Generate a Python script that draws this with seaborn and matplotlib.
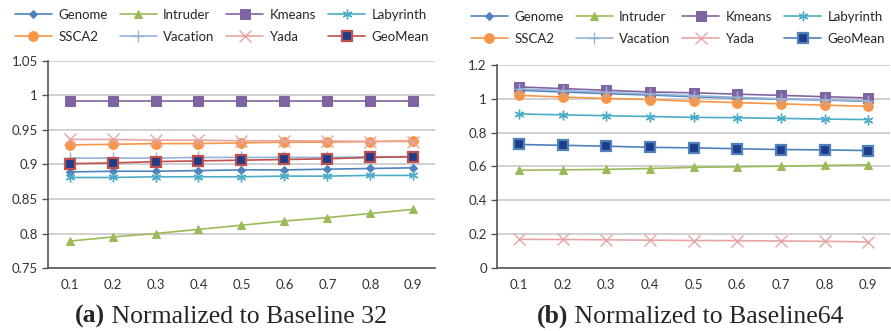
import matplotlib
matplotlib.use("Agg")
import matplotlib.pyplot as plt
import seaborn as sns
import pandas as pd

# x values (ratio)
ratios = [0.1, 0.2, 0.3, 0.4, 0.5, 0.6, 0.7, 0.8, 0.9]
names = ["Genome", "Intruder", "Kmeans", "Labyrinth", "SSCA2", "Vacation", "Yada", "GeoMean"]

# (a) normalized to baseline 32
a_genome = [0.889, 0.890, 0.890, 0.891, 0.892, 0.892, 0.893, 0.894, 0.895]
a_intruder = [0.789, 0.795, 0.800, 0.806, 0.812, 0.818, 0.823, 0.829, 0.835]
a_kmeans = [0.991, 0.991, 0.991, 0.991, 0.991, 0.991, 0.991, 0.991, 0.991]
a_labyrinth = [0.881, 0.881, 0.882, 0.882, 0.882, 0.883, 0.883, 0.884, 0.884]
a_ssca2 = [0.928, 0.929, 0.930, 0.930, 0.931, 0.932, 0.932, 0.933, 0.934]
a_vacation = [0.909, 0.909, 0.909, 0.910, 0.910, 0.910, 0.910, 0.911, 0.911]
a_yada = [0.936, 0.936, 0.935, 0.935, 0.934, 0.934, 0.934, 0.933, 0.933]
a_geomean = [0.901, 0.902, 0.904, 0.905, 0.906, 0.907, 0.908, 0.910, 0.911]

# (b) normalized to baseline 64
b_genome = [1.050, 1.040, 1.030, 1.022, 1.012, 1.004, 0.998, 0.992, 0.985]
b_intruder = [0.578, 0.580, 0.583, 0.588, 0.595, 0.598, 0.602, 0.606, 0.610]
b_kmeans = [1.070, 1.060, 1.050, 1.040, 1.035, 1.027, 1.020, 1.012, 1.005]
b_labyrinth = [0.910, 0.905, 0.900, 0.895, 0.890, 0.888, 0.884, 0.880, 0.877]
b_ssca2 = [1.020, 1.010, 1.002, 0.995, 0.985, 0.977, 0.970, 0.962, 0.955]
b_vacation = [1.058, 1.048, 1.038, 1.028, 1.018, 1.008, 1.000, 0.994, 0.988]
b_yada = [0.170, 0.169, 0.167, 0.165, 0.163, 0.162, 0.160, 0.158, 0.155]
b_geomean = [0.730, 0.725, 0.720, 0.713, 0.710, 0.705, 0.700, 0.698, 0.694]

data_a = [a_genome, a_intruder, a_kmeans, a_labyrinth, a_ssca2, a_vacation, a_yada, a_geomean]
data_b = [b_genome, b_intruder, b_kmeans, b_labyrinth, b_ssca2, b_vacation, b_yada, b_geomean]

# Excel 2007 っぽい色
colors = {"Genome": "#4F81BD", "Intruder": "#9BBB59", "Kmeans": "#8064A2",
          "Labyrinth": "#4BACC6", "SSCA2": "#F79646", "Vacation": "#95B3D7",
          "Yada": "#E6A5A4"}
markers = {"Genome": "D", "Intruder": "^", "Kmeans": "s", "Labyrinth": (6, 2, 0),
           "SSCA2": "o", "Vacation": "+", "Yada": "x", "GeoMean": "s"}
msize = {"Genome": 4.5, "Intruder": 6, "Kmeans": 7, "Labyrinth": 7,
         "SSCA2": 7, "Vacation": 8, "Yada": 8, "GeoMean": 7}

sns.set_style("white")
plt.rcParams["font.family"] = ["Lato", "DejaVu Sans"]

fig = plt.figure(figsize=(8.91, 3.31), dpi=100)
ax_a = fig.add_axes([0.054, 0.19, 0.434, 0.627])
ax_b = fig.add_axes([0.558, 0.19, 0.441, 0.614])


def draw(ax, series, geo_color, ylim, yticks, yfmt, leg_x, leg_y):
    for name, vals in zip(names, series):
        df = pd.DataFrame({"x": ratios, "y": vals})
        c = colors.get(name, geo_color)
        kw = dict(marker=markers[name], markersize=msize[name], color=c,
                  linewidth=1.2, label=name)
        if name == "GeoMean":
            kw.update(markerfacecolor="#1F3C88", markeredgecolor=c, markeredgewidth=1.6)
        elif name in ("Vacation", "Yada", "Labyrinth"):
            kw.update(markeredgecolor=c, markeredgewidth=1.0)
        else:
            kw.update(markeredgecolor=c)
        sns.lineplot(data=df, x="x", y="y", ax=ax, **kw)
    # カテゴリ軸っぽく
    ax.set_xlim(0.05, 0.95)
    ax.set_xticks(ratios)
    ax.set_xticklabels([f"{r:.1f}" for r in ratios])
    ax.set_xticks([round(0.05 + 0.1 * i, 2) for i in range(10)], minor=True)
    ax.tick_params(axis="x", which="major", length=0, pad=8, labelsize=9.5, colors="#333333")
    ax.tick_params(axis="x", which="minor", length=4, width=1, color="#555555", direction="out")
    ax.set_ylim(*ylim)
    ax.set_yticks(yticks)
    ax.set_yticklabels([yfmt(v) for v in yticks])
    ax.tick_params(axis="y", length=4, width=1, color="#555555", direction="out",
                   labelsize=9.5, colors="#333333", left=True)
    ax.yaxis.grid(True, color="#C8C8C8", linewidth=1.2)
    ax.set_axisbelow(True)
    for s in ["top", "right"]:
        ax.spines[s].set_visible(False)
    for s in ["left", "bottom"]:
        ax.spines[s].set_color("#555555")
        ax.spines[s].set_linewidth(1.2)
    ax.set_xlabel("")
    ax.set_ylabel("")
    # 凡例は行方向に並べる
    h, l = ax.get_legend_handles_labels()
    order = [0, 4, 1, 5, 2, 6, 3, 7]
    ax.legend([h[i] for i in order], [l[i] for i in order],
              loc="center", bbox_to_anchor=(leg_x, leg_y), bbox_transform=fig.transFigure,
              ncol=4, frameon=False, fontsize=9.5, handlelength=2.8,
              columnspacing=0.9, handletextpad=0.5, labelspacing=0.75,
              borderaxespad=0, borderpad=0)


def fmt_a(v):
    return f"{v:.2f}".rstrip("0").rstrip(".")


def fmt_b(v):
    return f"{v:.1f}".rstrip("0").rstrip(".")


draw(ax_a, data_a, "#C0504D", (0.75, 1.05),
     [0.75, 0.8, 0.85, 0.9, 0.95, 1.0, 1.05], fmt_a, 222 / 891, 1 - 26 / 331)
draw(ax_b, data_b, "#4F81BD", (0.0, 1.2),
     [0.0, 0.2, 0.4, 0.6, 0.8, 1.0, 1.2], fmt_b, 678 / 891, 1 - 28 / 331)

# キャプション
serif = ["Liberation Serif", "DejaVu Serif"]
fig.canvas.draw()
renderer = fig.canvas.get_renderer()
for xpos, tag, rest in [(75 / 891, "(a)", " Normalized to Baseline 32"),
                        (537 / 891, "(b)", " Normalized to Baseline64")]:
    t1 = fig.text(xpos, 0.024, tag, family=serif, weight="bold", fontsize=18.5)
    bb = t1.get_window_extent(renderer=renderer)
    fig.text(bb.x1 / fig.bbox.width, 0.024, rest, family=serif, fontsize=18.5)

fig.savefig("out.png", dpi=100)
